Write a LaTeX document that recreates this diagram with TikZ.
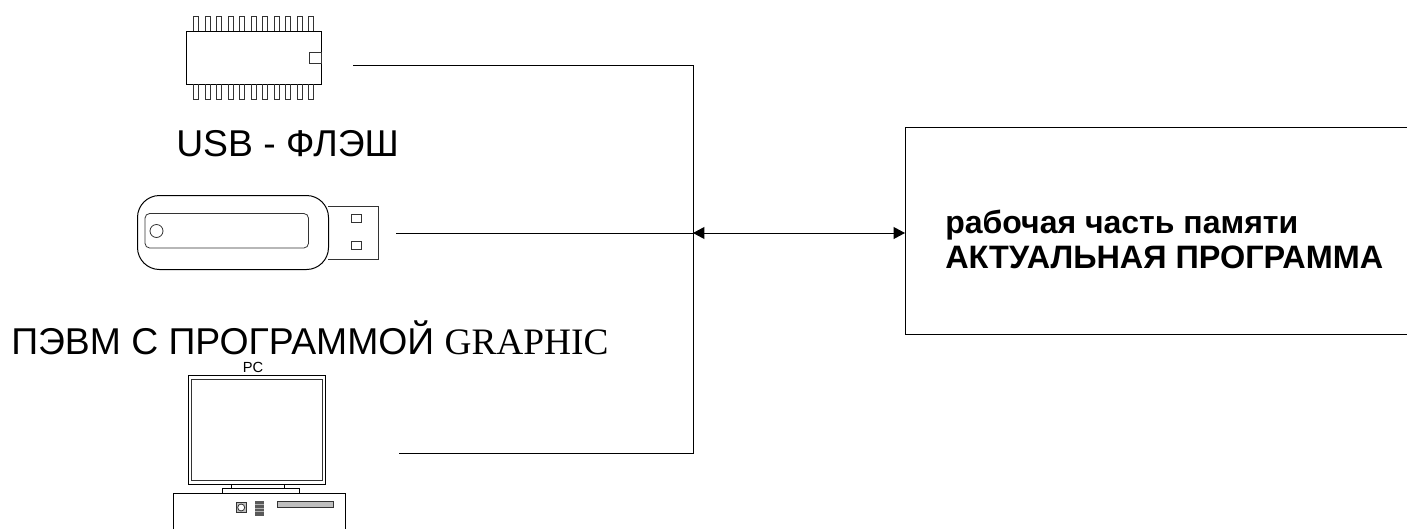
\documentclass[tikz,border=0pt]{standalone}
\usepackage{fontspec}
\setmainfont{Liberation Sans}
\newfontfamily\timesfont{Liberation Serif}
\usetikzlibrary{arrows.meta}
\usetikzlibrary{positioning}

\tikzset{
  part/.style={draw=black,line width=0.75pt},
  thin part/.style={draw=black!80,line width=0.6pt},
  wire/.style={draw=black,line width=0.75pt},
  both tips/.style={{Triangle[length=8.6pt,width=9pt]}-{Triangle[length=8.6pt,width=9pt]}},
  caption/.style={anchor=west,inner sep=0pt}
}

\begin{document}
\begin{tikzpicture}[x=0.75pt,y=0.75pt,yscale=-1,xscale=1]
  \useasboundingbox (0,0) rectangle (1407,529);

  % chip
  \draw[part] (186.5,31) rectangle (321.5,84);
  \draw[thin part] (309.5,52.5) rectangle (321,63);
  \foreach \i in {0,...,10}{
    \draw[thin part] ({193.5+11.5*\i},31) -- ({193.5+11.5*\i},16.5) -- ({198.5+11.5*\i},16.5) -- ({198.5+11.5*\i},31);
    \draw[thin part] ({193.5+11.5*\i},84) -- ({193.5+11.5*\i},99) -- ({198.5+11.5*\i},99) -- ({198.5+11.5*\i},84);
  }

  % flash stick
  \draw[thin part] (328,206) -- (378.5,206) -- (378.5,259.5) -- (328,259.5);
  \draw[part,rounded corners=16.5pt] (137.5,195.5) rectangle (328.5,269.5);
  \draw[thin part,rounded corners=3.5pt] (145,213.5) rectangle (308.5,248);
  \draw[thin part] (156.5,231) circle [radius=6.5];
  \draw[thin part] (351,214.5) rectangle (361.5,222.5);
  \draw[thin part] (351,241) rectangle (361.5,249.5);

  % computer
  \draw[part] (188.5,375.5) rectangle (325,484.5);
  \draw[thin part] (191.5,379.5) rectangle (322.5,480);
  \draw[part] (231.5,484.5) rectangle (284.5,488.5);
  \draw[part] (222.5,488.5) rectangle (299.5,493.5);
  \draw[part] (173.5,529) -- (173.5,493.5) -- (345.5,493.5) -- (345.5,529);
  \draw[thin part,fill=black!25] (236,502.5) rectangle (246.5,512.5);
  \draw[thin part,fill=white] (241.2,507.5) circle [radius=3.5];
  \fill[black!65] (255,500.5) rectangle (263.5,515.5);
  \foreach \i in {1,...,3}{
    \draw[black!30,line width=0.5pt] (255,{500.5+3.75*\i}) -- (263.5,{500.5+3.75*\i});
  }
  \draw[thin part,fill=black!25] (277,501.5) rectangle (333,507.5);

  % Label the parts
  \draw (176,144) node (flashlabel) [caption,font=\fontsize{28}{32}\selectfont] {USB - ФЛЭШ};
  \draw (11,337.5) node (pclabel) [caption,font=\fontsize{28}{32}\selectfont] {ПЭВМ С ПРОГРАММОЙ {\timesfont GRAPHIC}};
  \draw (253,367) node (pcname) [inner sep=0pt,font=\fontsize{11}{12}\selectfont] {PC};

  % memory block, open on the right
  \draw[part] (1407,127.5) -- (905,127.5) -- (905,334.5) -- (1407,334.5);
  \draw (945,239.5) node (memtext) [caption,align=left,font=\fontsize{24}{26.7}\selectfont\bfseries] {рабочая часть памяти\\ {\fontsize{24.3}{26.7}\selectfont АКТУАЛЬНАЯ ПРОГРАММА}};

  % Connections
  \coordinate (chipout) at (353,65);
  \coordinate (flashout) at (396,233);
  \coordinate (pcout) at (399,453);
  \coordinate (bus) at (693,233);
  \coordinate (memin) at (905,233);
  \draw[wire] (chipout) -- (bus |- chipout) -- (bus |- pcout) -- (pcout);
  \draw[wire] (flashout) -- (bus);
  \draw[wire,both tips] (bus) -- (memin);

\end{tikzpicture}
\end{document}
